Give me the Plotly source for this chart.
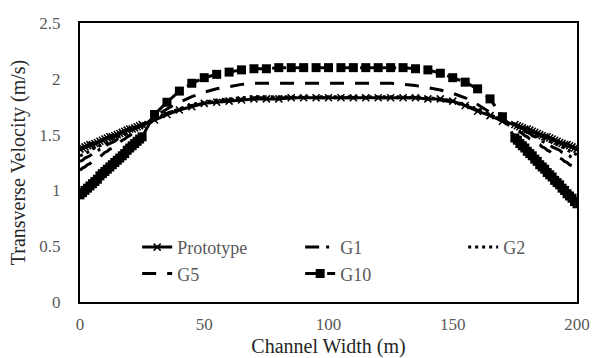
import plotly.graph_objects as go

# Stations across the channel (m): dense near the banks, coarser in the middle
left_x = list(range(0, 26))
mid_x = list(range(30, 171, 5))
right_x = list(range(175, 201))
width_m = left_x + mid_x + right_x

# Transverse velocity (m/s) per model
prototype = [1.37, 1.38, 1.39, 1.40, 1.41, 1.41, 1.42, 1.43, 1.44, 1.45, 1.46, 1.47, 1.48,
             1.48, 1.49, 1.50, 1.51, 1.52, 1.53, 1.54, 1.55, 1.55, 1.56, 1.57, 1.58, 1.59,
             1.63, 1.68, 1.72, 1.75, 1.78, 1.79, 1.80, 1.81, 1.82, 1.82, 1.82, 1.83, 1.83,
             1.83, 1.83, 1.83, 1.83, 1.83, 1.83, 1.83, 1.83, 1.83, 1.82, 1.82, 1.80, 1.76,
             1.71, 1.67, 1.62,
             1.59, 1.58, 1.57, 1.56, 1.55, 1.55, 1.54, 1.53, 1.52, 1.51, 1.50, 1.49, 1.48,
             1.48, 1.47, 1.46, 1.45, 1.44, 1.43, 1.42, 1.41, 1.41, 1.40, 1.39, 1.38, 1.37]

g1 = [1.26, 1.27, 1.29, 1.30, 1.31, 1.33, 1.34, 1.35, 1.37, 1.38, 1.39, 1.41, 1.42,
      1.43, 1.44, 1.46, 1.47, 1.48, 1.50, 1.51, 1.52, 1.54, 1.55, 1.56, 1.58, 1.59,
      1.64, 1.69, 1.73, 1.76, 1.78, 1.80, 1.81, 1.82, 1.83, 1.83, 1.83, 1.83, 1.83,
      1.83, 1.83, 1.83, 1.83, 1.83, 1.83, 1.83, 1.83, 1.83, 1.82, 1.81, 1.79, 1.76,
      1.72, 1.68, 1.63,
      1.58, 1.57, 1.56, 1.54, 1.53, 1.52, 1.51, 1.49, 1.48, 1.47, 1.46, 1.44, 1.43,
      1.42, 1.41, 1.39, 1.38, 1.37, 1.36, 1.34, 1.33, 1.32, 1.31, 1.29, 1.28, 1.27]

g2 = [1.31, 1.32, 1.33, 1.34, 1.35, 1.37, 1.38, 1.39, 1.40, 1.41, 1.42, 1.43, 1.44,
      1.46, 1.47, 1.48, 1.49, 1.50, 1.51, 1.52, 1.53, 1.55, 1.56, 1.57, 1.58, 1.59,
      1.64, 1.69, 1.73, 1.77, 1.79, 1.81, 1.82, 1.83, 1.84, 1.84, 1.84, 1.84, 1.84,
      1.84, 1.84, 1.84, 1.84, 1.84, 1.84, 1.84, 1.84, 1.84, 1.83, 1.82, 1.80, 1.77,
      1.73, 1.68, 1.63,
      1.59, 1.58, 1.57, 1.56, 1.55, 1.54, 1.53, 1.51, 1.50, 1.49, 1.48, 1.47, 1.46,
      1.45, 1.44, 1.43, 1.42, 1.41, 1.40, 1.39, 1.38, 1.36, 1.35, 1.34, 1.33, 1.32]

g5 = [1.18, 1.20, 1.21, 1.23, 1.24, 1.26, 1.27, 1.29, 1.30, 1.32, 1.34, 1.35, 1.37,
      1.38, 1.40, 1.41, 1.43, 1.45, 1.46, 1.48, 1.49, 1.51, 1.52, 1.54, 1.55, 1.57,
      1.66, 1.73, 1.79, 1.84, 1.88, 1.91, 1.93, 1.95, 1.96, 1.96, 1.96, 1.96, 1.96,
      1.96, 1.96, 1.96, 1.96, 1.96, 1.96, 1.96, 1.95, 1.94, 1.92, 1.90, 1.87, 1.83,
      1.77, 1.70, 1.62,
      1.55, 1.54, 1.52, 1.51, 1.49, 1.48, 1.46, 1.45, 1.43, 1.42, 1.41, 1.39, 1.38,
      1.36, 1.35, 1.33, 1.32, 1.30, 1.29, 1.28, 1.26, 1.25, 1.23, 1.22, 1.20, 1.19]

g10 = [0.96, 0.98, 1.00, 1.02, 1.04, 1.06, 1.08, 1.10, 1.13, 1.15, 1.17, 1.19, 1.21,
       1.23, 1.25, 1.27, 1.29, 1.31, 1.33, 1.36, 1.38, 1.40, 1.42, 1.44, 1.46, 1.48,
       1.68, 1.79, 1.89, 1.96, 2.01, 2.04, 2.06, 2.08, 2.09, 2.09, 2.10, 2.10, 2.10,
       2.10, 2.10, 2.10, 2.10, 2.10, 2.10, 2.10, 2.10, 2.09, 2.08, 2.05, 2.01, 1.97,
       1.91, 1.82, 1.66,
       1.47, 1.45, 1.42, 1.40, 1.38, 1.35, 1.33, 1.31, 1.28, 1.26, 1.23, 1.21, 1.19,
       1.16, 1.14, 1.12, 1.09, 1.07, 1.05, 1.02, 1.00, 0.97, 0.95, 0.93, 0.90, 0.88]

x_ticks = [0, 50, 100, 150, 200]
y_ticks = [0, 0.5, 1, 1.5, 2, 2.5]

GREY = "#595959"

fig = go.Figure()

fig.add_trace(go.Scatter(
    x=width_m, y=prototype, name="Prototype", mode="lines+markers",
    line=dict(color="black", width=3),
    marker=dict(symbol="x-thin", size=7, color="black",
                line=dict(color="black", width=1.5)),
))
fig.add_trace(go.Scatter(
    x=width_m, y=g1, name="G1", mode="lines",
    line=dict(color="black", width=3, dash="14px,7px,3px,7px"),
))
fig.add_trace(go.Scatter(
    x=width_m, y=g2, name="G2", mode="lines",
    line=dict(color="black", width=3, dash="3px,4px"),
))
fig.add_trace(go.Scatter(
    x=width_m, y=g5, name="G5", mode="lines",
    line=dict(color="black", width=3, dash="14px,11px"),
))
fig.add_trace(go.Scatter(
    x=width_m, y=g10, name="G10", mode="lines+markers",
    line=dict(color="black", width=3, dash="14px,8px"),
    marker=dict(symbol="square", size=9, color="black"),
))

fig.update_layout(
    width=592, height=358,
    margin=dict(l=80, r=15, t=23, b=56, autoexpand=False),
    font=dict(family="Times New Roman", size=17, color=GREY),
    plot_bgcolor="white", paper_bgcolor="white",
    showlegend=True,
    legend=dict(
        orientation="h", x=0.115, y=0.262, xanchor="left", yanchor="top",
        entrywidth=118, entrywidthmode="pixels",
        font=dict(size=18),
        bgcolor="rgba(255,255,255,0)",
    ),
    xaxis=dict(
        range=[0, 200], tickvals=x_ticks, ticks="", showgrid=False, zeroline=False,
        showline=True, linecolor="black", linewidth=2, mirror=True,
        ticklabelstandoff=6,
        title=dict(text="Channel Width (m)", standoff=6,
                   font=dict(size=20, color="#262626")),
    ),
    yaxis=dict(
        range=[0, 2.5], tickvals=y_ticks, ticks="", showgrid=False, zeroline=False,
        showline=True, linecolor="black", linewidth=2, mirror=True,
        ticklabelstandoff=14,
        title=dict(text="Transverse Velocity (m/s)", standoff=8,
                   font=dict(size=20, color="#262626")),
    ),
)

fig.write_html("out.html")
